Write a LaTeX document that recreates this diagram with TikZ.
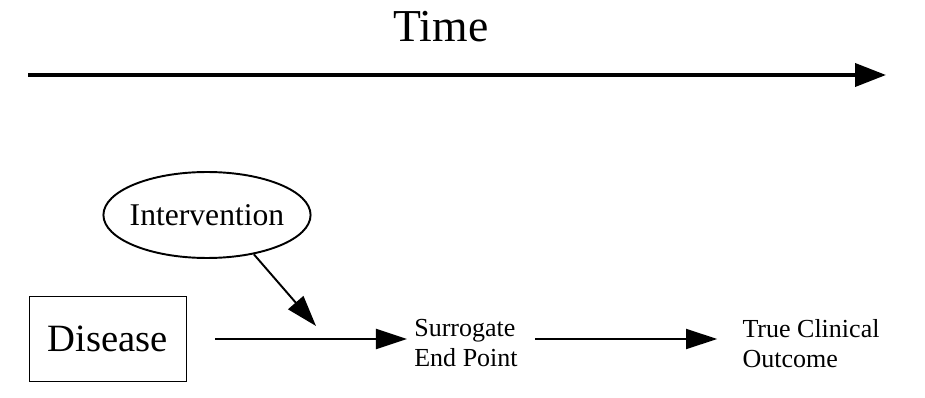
\documentclass[tikz,border=0pt]{standalone}
\usepackage{fontspec}
\setmainfont{Liberation Serif}
\usetikzlibrary{positioning,arrows.meta,shapes.geometric}

\begin{document}
\begin{tikzpicture}[x=0.02cm,y=-0.02cm,
box/.style={rectangle,draw,line width=1.1pt,minimum width=3.14cm,minimum height=1.7cm,font=\fontsize{22pt}{26pt}\selectfont},
oval/.style={ellipse,draw,line width=1.1pt,inner xsep=-2.3pt,inner ysep=0pt,minimum height=1.72cm,font=\fontsize{18pt}{22pt}\selectfont},
label/.style={align=left,inner sep=4pt,font=\fontsize{14.8pt}{17pt}\selectfont},
arrow/.style={-{Triangle[length=0.62cm,width=0.4cm]},line width=1.1pt},
bigarrow/.style={-{Triangle[length=0.62cm,width=0.46cm]},line width=2.2pt}]
\useasboundingbox (0,0) rectangle (925,398);
\node[font=\fontsize{26pt}{30pt}\selectfont] (time) at (441,27) {Time};
\coordinate (t0) at (28,75);
\coordinate (t1) at (886,75);
\draw[bigarrow] (t0) -- (t1);
\node[box] (disease) at (108,339) {Disease};
\node[oval] (interv) at (207,215) {Intervention};
\node[label] (surr) at (466,343) {Surrogate\\End Point};
\node[label] (outc) at (811,344) {True Clinical\\Outcome};
\coordinate (hit) at (316,326);
\draw[arrow,shorten <=0.56cm] (disease.east) -- (disease.east -| surr.west);
\draw[arrow] (interv.-40) -- (hit);
\draw[arrow,shorten <=0.2cm,shorten >=0.36cm] (surr.east |- disease.east) -- (outc.west |- disease.east);
\end{tikzpicture}
\end{document}
